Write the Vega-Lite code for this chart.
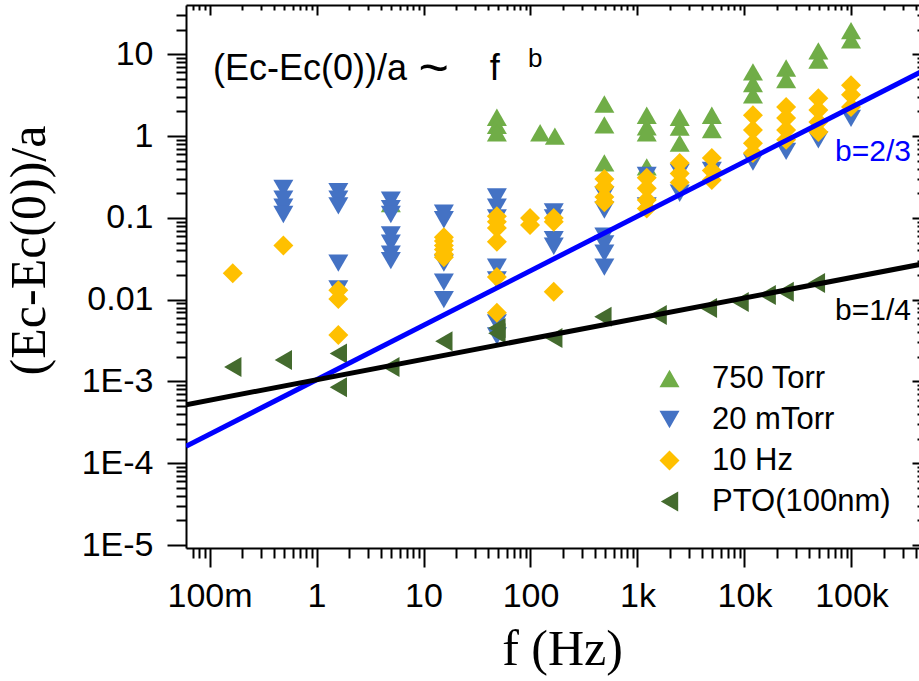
{
  "$schema": "https://vega.github.io/schema/vega-lite/v6.json",
  "width": 736,
  "height": 543,
  "autosize": {"type": "none"},
  "padding": {"left": 186, "top": 5, "right": 0, "bottom": 133},
  "background": "white",
  "config": {
    "view": {"stroke": null},
    "font": "Liberation Sans",
    "legend": {
      "symbolSize": 400,
      "symbolStrokeWidth": 0,
      "labelFontSize": 31,
      "labelFont": "Liberation Sans",
      "labelColor": "black",
      "labelOffset": 27,
      "rowPadding": 9,
      "padding": 0,
      "labelLimit": 400
    }
  },
  "datasets": {
    "points": [
      {"s": "750 Torr", "f": 4.95, "v": 0.15},
      {"s": "750 Torr", "f": 48.5, "v": 1.7},
      {"s": "750 Torr", "f": 48.5, "v": 1.35},
      {"s": "750 Torr", "f": 48.5, "v": 1.1},
      {"s": "750 Torr", "f": 123, "v": 1.1},
      {"s": "750 Torr", "f": 169, "v": 1.0},
      {"s": "750 Torr", "f": 490, "v": 2.47},
      {"s": "750 Torr", "f": 490, "v": 1.37},
      {"s": "750 Torr", "f": 490, "v": 0.47},
      {"s": "750 Torr", "f": 1220, "v": 1.8},
      {"s": "750 Torr", "f": 1220, "v": 1.3},
      {"s": "750 Torr", "f": 1220, "v": 1.1},
      {"s": "750 Torr", "f": 1220, "v": 0.42},
      {"s": "750 Torr", "f": 2480, "v": 1.7},
      {"s": "750 Torr", "f": 2480, "v": 1.29},
      {"s": "750 Torr", "f": 2480, "v": 0.82},
      {"s": "750 Torr", "f": 4950, "v": 1.8},
      {"s": "750 Torr", "f": 4950, "v": 1.2},
      {"s": "750 Torr", "f": 12000, "v": 6.1},
      {"s": "750 Torr", "f": 12000, "v": 4.4},
      {"s": "750 Torr", "f": 12000, "v": 3.2},
      {"s": "750 Torr", "f": 24500, "v": 6.8},
      {"s": "750 Torr", "f": 24500, "v": 4.9},
      {"s": "750 Torr", "f": 49000, "v": 11},
      {"s": "750 Torr", "f": 49000, "v": 8.5},
      {"s": "750 Torr", "f": 99000, "v": 19.5},
      {"s": "750 Torr", "f": 99000, "v": 15},
      {"s": "20 mTorr", "f": 0.49, "v": 0.23},
      {"s": "20 mTorr", "f": 0.49, "v": 0.17},
      {"s": "20 mTorr", "f": 0.49, "v": 0.135},
      {"s": "20 mTorr", "f": 0.49, "v": 0.11},
      {"s": "20 mTorr", "f": 1.6, "v": 0.21},
      {"s": "20 mTorr", "f": 1.6, "v": 0.17},
      {"s": "20 mTorr", "f": 1.6, "v": 0.14},
      {"s": "20 mTorr", "f": 1.6, "v": 0.028},
      {"s": "20 mTorr", "f": 1.6, "v": 0.0135},
      {"s": "20 mTorr", "f": 4.95, "v": 0.165},
      {"s": "20 mTorr", "f": 4.95, "v": 0.13},
      {"s": "20 mTorr", "f": 4.95, "v": 0.11},
      {"s": "20 mTorr", "f": 4.95, "v": 0.062},
      {"s": "20 mTorr", "f": 4.95, "v": 0.049},
      {"s": "20 mTorr", "f": 4.95, "v": 0.036},
      {"s": "20 mTorr", "f": 4.95, "v": 0.03},
      {"s": "20 mTorr", "f": 15.5, "v": 0.114},
      {"s": "20 mTorr", "f": 15.5, "v": 0.095},
      {"s": "20 mTorr", "f": 15.5, "v": 0.028},
      {"s": "20 mTorr", "f": 15.5, "v": 0.0164},
      {"s": "20 mTorr", "f": 15.5, "v": 0.01},
      {"s": "20 mTorr", "f": 48.5, "v": 0.18},
      {"s": "20 mTorr", "f": 48.5, "v": 0.135},
      {"s": "20 mTorr", "f": 48.5, "v": 0.1},
      {"s": "20 mTorr", "f": 48.5, "v": 0.025},
      {"s": "20 mTorr", "f": 48.5, "v": 0.0175},
      {"s": "20 mTorr", "f": 48.5, "v": 0.0052},
      {"s": "20 mTorr", "f": 48.5, "v": 0.0036},
      {"s": "20 mTorr", "f": 165, "v": 0.118},
      {"s": "20 mTorr", "f": 165, "v": 0.1},
      {"s": "20 mTorr", "f": 165, "v": 0.054},
      {"s": "20 mTorr", "f": 165, "v": 0.045},
      {"s": "20 mTorr", "f": 490, "v": 0.19},
      {"s": "20 mTorr", "f": 490, "v": 0.125},
      {"s": "20 mTorr", "f": 490, "v": 0.06},
      {"s": "20 mTorr", "f": 490, "v": 0.048},
      {"s": "20 mTorr", "f": 490, "v": 0.037},
      {"s": "20 mTorr", "f": 490, "v": 0.025},
      {"s": "20 mTorr", "f": 1220, "v": 0.33},
      {"s": "20 mTorr", "f": 1220, "v": 0.14},
      {"s": "20 mTorr", "f": 2480, "v": 0.36},
      {"s": "20 mTorr", "f": 2480, "v": 0.2},
      {"s": "20 mTorr", "f": 4950, "v": 0.38},
      {"s": "20 mTorr", "f": 12000, "v": 0.48},
      {"s": "20 mTorr", "f": 24500, "v": 0.65},
      {"s": "20 mTorr", "f": 49000, "v": 0.9},
      {"s": "20 mTorr", "f": 99000, "v": 1.65},
      {"s": "10 Hz", "f": 0.165, "v": 0.021},
      {"s": "10 Hz", "f": 0.49, "v": 0.046},
      {"s": "10 Hz", "f": 1.6, "v": 0.013},
      {"s": "10 Hz", "f": 1.6, "v": 0.0102},
      {"s": "10 Hz", "f": 1.6, "v": 0.0037},
      {"s": "10 Hz", "f": 15.5, "v": 0.058},
      {"s": "10 Hz", "f": 15.5, "v": 0.052},
      {"s": "10 Hz", "f": 15.5, "v": 0.046},
      {"s": "10 Hz", "f": 15.5, "v": 0.041},
      {"s": "10 Hz", "f": 15.5, "v": 0.036},
      {"s": "10 Hz", "f": 15.5, "v": 0.033},
      {"s": "10 Hz", "f": 48.5, "v": 0.105},
      {"s": "10 Hz", "f": 48.5, "v": 0.09},
      {"s": "10 Hz", "f": 48.5, "v": 0.075},
      {"s": "10 Hz", "f": 48.5, "v": 0.051},
      {"s": "10 Hz", "f": 48.5, "v": 0.019},
      {"s": "10 Hz", "f": 48.5, "v": 0.0069},
      {"s": "10 Hz", "f": 99, "v": 0.1},
      {"s": "10 Hz", "f": 99, "v": 0.082},
      {"s": "10 Hz", "f": 165, "v": 0.1},
      {"s": "10 Hz", "f": 165, "v": 0.09},
      {"s": "10 Hz", "f": 165, "v": 0.0125},
      {"s": "10 Hz", "f": 490, "v": 0.3},
      {"s": "10 Hz", "f": 490, "v": 0.24},
      {"s": "10 Hz", "f": 490, "v": 0.18},
      {"s": "10 Hz", "f": 490, "v": 0.155},
      {"s": "10 Hz", "f": 1220, "v": 0.31},
      {"s": "10 Hz", "f": 1220, "v": 0.23},
      {"s": "10 Hz", "f": 1220, "v": 0.165},
      {"s": "10 Hz", "f": 1220, "v": 0.13},
      {"s": "10 Hz", "f": 2480, "v": 0.47},
      {"s": "10 Hz", "f": 2480, "v": 0.35},
      {"s": "10 Hz", "f": 2480, "v": 0.27},
      {"s": "10 Hz", "f": 4950, "v": 0.54},
      {"s": "10 Hz", "f": 4950, "v": 0.38},
      {"s": "10 Hz", "f": 4950, "v": 0.29},
      {"s": "10 Hz", "f": 12000, "v": 1.8},
      {"s": "10 Hz", "f": 12000, "v": 1.19},
      {"s": "10 Hz", "f": 12000, "v": 0.82},
      {"s": "10 Hz", "f": 12000, "v": 0.62},
      {"s": "10 Hz", "f": 24500, "v": 2.27},
      {"s": "10 Hz", "f": 24500, "v": 1.66},
      {"s": "10 Hz", "f": 24500, "v": 1.19},
      {"s": "10 Hz", "f": 24500, "v": 0.9},
      {"s": "10 Hz", "f": 49000, "v": 2.9},
      {"s": "10 Hz", "f": 49000, "v": 2.08},
      {"s": "10 Hz", "f": 49000, "v": 1.49},
      {"s": "10 Hz", "f": 49000, "v": 1.12},
      {"s": "10 Hz", "f": 99000, "v": 4.2},
      {"s": "10 Hz", "f": 99000, "v": 3.2},
      {"s": "10 Hz", "f": 99000, "v": 2.27},
      {"s": "PTO(100nm)", "f": 0.165, "v": 0.0015},
      {"s": "PTO(100nm)", "f": 0.49, "v": 0.00183},
      {"s": "PTO(100nm)", "f": 1.6, "v": 0.0022},
      {"s": "PTO(100nm)", "f": 1.6, "v": 0.00085},
      {"s": "PTO(100nm)", "f": 4.95, "v": 0.0015},
      {"s": "PTO(100nm)", "f": 15.5, "v": 0.0031},
      {"s": "PTO(100nm)", "f": 48.5, "v": 0.0045},
      {"s": "PTO(100nm)", "f": 48.5, "v": 0.0039},
      {"s": "PTO(100nm)", "f": 165, "v": 0.0034},
      {"s": "PTO(100nm)", "f": 475, "v": 0.0062},
      {"s": "PTO(100nm)", "f": 1560, "v": 0.0065},
      {"s": "PTO(100nm)", "f": 4600, "v": 0.0079},
      {"s": "PTO(100nm)", "f": 9100, "v": 0.0094},
      {"s": "PTO(100nm)", "f": 16300, "v": 0.0114},
      {"s": "PTO(100nm)", "f": 24000, "v": 0.0125},
      {"s": "PTO(100nm)", "f": 47000, "v": 0.016}
    ],
    "lines": [
      {"fit": "b=2/3", "f": 0.0603, "v": 0.0001615},
      {"fit": "b=2/3", "f": 456000, "v": 6.2},
      {"fit": "b=1/4", "f": 0.0603, "v": 0.00052},
      {"fit": "b=1/4", "f": 456000, "v": 0.0273}
    ],
    "note": [
      {"t": "(Ec-Ec(0))/a", "f": 0.108, "v": 4.85},
      {"t": "f", "f": 41.7, "v": 4.85}
    ],
    "tilde": [
      {"t": "~", "f": 9.0, "v": 4.21}
    ],
    "sup": [
      {"t": "b", "f": 94.8, "v": 7.0}
    ],
    "fits": [
      {"t": "b=2/3", "f": 70200, "v": 0.496},
      {"t": "b=1/4", "f": 70200, "v": 0.00565}
    ]
  },
  "layer": [
    {
      "data": {"name": "points"},
      "mark": {"type": "point", "filled": true, "opacity": 1, "size": 400, "strokeWidth": 0},
      "encoding": {
        "x": {
          "field": "f", "type": "quantitative",
          "scale": {"type": "log", "domain": [0.0603, 456000], "nice": false},
          "axis": {
            "orient": "bottom",
            "values": [0.07,0.08,0.09,0.1,0.2,0.3,0.4,0.5,0.6,0.7,0.8,0.9,1,2,3,4,5,6,7,8,9,10,20,30,40,50,60,70,80,90,100,200,300,400,500,600,700,800,900,1000,2000,3000,4000,5000,6000,7000,8000,9000,10000,20000,30000,40000,50000,60000,70000,80000,90000,100000,200000,300000,400000],
            "labelExpr": "abs(log(datum.value)/LN10 - round(log(datum.value)/LN10)) < 0.000001 ? format(datum.value, '~s') : ''",
            "labelFont": "Liberation Sans", "labelFontSize": 34, "labelColor": "black",
            "labelPadding": 12, "labelOverlap": false, "labelFlush": false,
            "tickSize": {"condition": {"test": "abs(log(datum.value)/LN10 - round(log(datum.value)/LN10)) < 0.000001", "value": 19}, "value": 10},
            "tickColor": "black", "tickWidth": 2,
            "domainColor": "black", "domainWidth": 2,
            "grid": false,
            "title": "f (Hz)", "titleFont": "Liberation Serif", "titleFontSize": 50, "titleFontWeight": "normal", "titleColor": "black",
            "titleX": 376, "titleY": 116, "titleBaseline": "alphabetic", "titleAlign": "center"
          }
        },
        "y": {
          "field": "v", "type": "quantitative",
          "scale": {"type": "log", "domain": [0.0000092, 40.1], "nice": false},
          "axis": {
            "orient": "left",
            "values": [1e-5,2e-5,3e-5,4e-5,5e-5,6e-5,7e-5,8e-5,9e-5,1e-4,2e-4,3e-4,4e-4,5e-4,6e-4,7e-4,8e-4,9e-4,0.001,0.002,0.003,0.004,0.005,0.006,0.007,0.008,0.009,0.01,0.02,0.03,0.04,0.05,0.06,0.07,0.08,0.09,0.1,0.2,0.3,0.4,0.5,0.6,0.7,0.8,0.9,1,2,3,4,5,6,7,8,9,10,20,30],
            "labelExpr": "abs(log(datum.value)/LN10 - round(log(datum.value)/LN10)) < 0.000001 ? (datum.value >= 0.01 ? format(datum.value, '~g') : '1E' + round(log(datum.value)/LN10)) : ''",
            "labelFont": "Liberation Sans", "labelFontSize": 34, "labelColor": "black",
            "labelPadding": 14, "labelOverlap": false, "labelFlush": false,
            "tickSize": {"condition": {"test": "abs(log(datum.value)/LN10 - round(log(datum.value)/LN10)) < 0.000001", "value": 19}, "value": 10},
            "tickColor": "black", "tickWidth": 2,
            "domainColor": "black", "domainWidth": 2,
            "grid": false,
            "title": "(Ec-Ec(0))/a", "titleFont": "Liberation Serif", "titleFontSize": 50, "titleFontWeight": "normal", "titleColor": "black",
            "titleAngle": -90, "titleX": -142, "titleY": 245, "titleBaseline": "alphabetic", "titleAlign": "center"
          }
        },
        "color": {
          "field": "s", "type": "nominal",
          "scale": {"domain": ["750 Torr", "20 mTorr", "10 Hz", "PTO(100nm)"], "range": ["#70AD47", "#4472C4", "#FFC000", "#446B2E"]},
          "legend": {"title": null, "orient": "none", "legendX": 468, "legendY": 358}
        },
        "shape": {
          "field": "s", "type": "nominal",
          "scale": {"domain": ["750 Torr", "20 mTorr", "10 Hz", "PTO(100nm)"], "range": ["triangle-up", "triangle-down", "diamond", "triangle-left"]},
          "legend": {"title": null, "orient": "none", "legendX": 468, "legendY": 358}
        }
      }
    },
    {
      "data": {"name": "lines"},
      "transform": [{"filter": "datum.fit === 'b=2/3'"}],
      "mark": {"type": "line", "color": "#0000FF", "strokeWidth": 5, "clip": true},
      "encoding": {
        "x": {"field": "f", "type": "quantitative", "scale": {"type": "log", "domain": [0.0603, 456000], "nice": false}, "axis": null},
        "y": {"field": "v", "type": "quantitative", "scale": {"type": "log", "domain": [0.0000092, 40.1], "nice": false}, "axis": null}
      }
    },
    {
      "data": {"name": "lines"},
      "transform": [{"filter": "datum.fit === 'b=1/4'"}],
      "mark": {"type": "line", "color": "#000000", "strokeWidth": 5, "clip": true},
      "encoding": {
        "x": {"field": "f", "type": "quantitative", "scale": {"type": "log", "domain": [0.0603, 456000], "nice": false}, "axis": null},
        "y": {"field": "v", "type": "quantitative", "scale": {"type": "log", "domain": [0.0000092, 40.1], "nice": false}, "axis": null}
      }
    },
    {
      "data": {"name": "note"},
      "mark": {"type": "text", "fontSize": 36, "align": "left", "baseline": "alphabetic", "font": "Liberation Sans", "color": "black"},
      "encoding": {
        "x": {"field": "f", "type": "quantitative", "scale": {"type": "log", "domain": [0.0603, 456000], "nice": false}, "axis": null},
        "y": {"field": "v", "type": "quantitative", "scale": {"type": "log", "domain": [0.0000092, 40.1], "nice": false}, "axis": null},
        "text": {"field": "t"}
      }
    },
    {
      "data": {"name": "tilde"},
      "mark": {"type": "text", "fontSize": 52, "align": "left", "baseline": "alphabetic", "font": "Liberation Sans", "color": "black"},
      "encoding": {
        "x": {"field": "f", "type": "quantitative", "scale": {"type": "log", "domain": [0.0603, 456000], "nice": false}, "axis": null},
        "y": {"field": "v", "type": "quantitative", "scale": {"type": "log", "domain": [0.0000092, 40.1], "nice": false}, "axis": null},
        "text": {"field": "t"}
      }
    },
    {
      "data": {"name": "sup"},
      "mark": {"type": "text", "fontSize": 26, "align": "left", "baseline": "alphabetic", "font": "Liberation Sans", "color": "black"},
      "encoding": {
        "x": {"field": "f", "type": "quantitative", "scale": {"type": "log", "domain": [0.0603, 456000], "nice": false}, "axis": null},
        "y": {"field": "v", "type": "quantitative", "scale": {"type": "log", "domain": [0.0000092, 40.1], "nice": false}, "axis": null},
        "text": {"field": "t"}
      }
    },
    {
      "data": {"name": "fits"},
      "transform": [{"filter": "datum.t === 'b=2/3'"}],
      "mark": {"type": "text", "fontSize": 30, "align": "left", "baseline": "alphabetic", "font": "Liberation Sans", "color": "#0000FF"},
      "encoding": {
        "x": {"field": "f", "type": "quantitative", "scale": {"type": "log", "domain": [0.0603, 456000], "nice": false}, "axis": null},
        "y": {"field": "v", "type": "quantitative", "scale": {"type": "log", "domain": [0.0000092, 40.1], "nice": false}, "axis": null},
        "text": {"field": "t"}
      }
    },
    {
      "data": {"name": "fits"},
      "transform": [{"filter": "datum.t === 'b=1/4'"}],
      "mark": {"type": "text", "fontSize": 30, "align": "left", "baseline": "alphabetic", "font": "Liberation Sans", "color": "black"},
      "encoding": {
        "x": {"field": "f", "type": "quantitative", "scale": {"type": "log", "domain": [0.0603, 456000], "nice": false}, "axis": null},
        "y": {"field": "v", "type": "quantitative", "scale": {"type": "log", "domain": [0.0000092, 40.1], "nice": false}, "axis": null},
        "text": {"field": "t"}
      }
    },
    {
      "data": {"name": "lines"},
      "mark": {"type": "point", "opacity": 0},
      "encoding": {
        "x": {
          "field": "f", "type": "quantitative",
          "scale": {"type": "log", "domain": [0.0603, 456000], "nice": false},
          "axis": {
            "orient": "top",
            "values": [0.07,0.08,0.09,0.1,0.2,0.3,0.4,0.5,0.6,0.7,0.8,0.9,1,2,3,4,5,6,7,8,9,10,20,30,40,50,60,70,80,90,100,200,300,400,500,600,700,800,900,1000,2000,3000,4000,5000,6000,7000,8000,9000,10000,20000,30000,40000,50000,60000,70000,80000,90000,100000,200000,300000,400000],
            "labels": false, "title": null, "grid": false,
            "tickSize": {"condition": {"test": "abs(log(datum.value)/LN10 - round(log(datum.value)/LN10)) < 0.000001", "value": -10}, "value": -5},
            "tickColor": "black", "tickWidth": 2,
            "domainColor": "black", "domainWidth": 2
          }
        },
        "y": {
          "field": "v", "type": "quantitative",
          "scale": {"type": "log", "domain": [0.0000092, 40.1], "nice": false},
          "axis": {
            "orient": "right",
            "values": [1e-5,2e-5,3e-5,4e-5,5e-5,6e-5,7e-5,8e-5,9e-5,1e-4,2e-4,3e-4,4e-4,5e-4,6e-4,7e-4,8e-4,9e-4,0.001,0.002,0.003,0.004,0.005,0.006,0.007,0.008,0.009,0.01,0.02,0.03,0.04,0.05,0.06,0.07,0.08,0.09,0.1,0.2,0.3,0.4,0.5,0.6,0.7,0.8,0.9,1,2,3,4,5,6,7,8,9,10,20,30],
            "labels": false, "title": null, "grid": false,
            "tickSize": {"condition": {"test": "abs(log(datum.value)/LN10 - round(log(datum.value)/LN10)) < 0.000001", "value": -10}, "value": -5},
            "tickColor": "black", "tickWidth": 2,
            "domainColor": "black", "domainWidth": 2
          }
        }
      }
    }
  ],
  "resolve": {"axis": {"x": "independent", "y": "independent"}}
}
